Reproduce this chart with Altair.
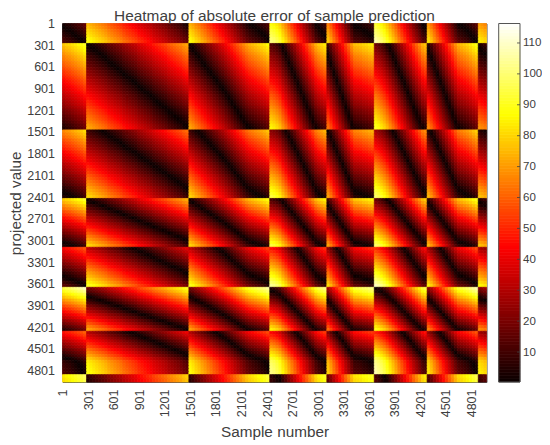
import altair as alt
import pandas as pd

alt.data_transformers.disable_max_rows()

# Values are read off the picture. Each cell is derived as |row profile - column profile|,
# using one hand-read profile per axis, rather than being read cell by cell.
title_text = "Heatmap of absolute error of sample prediction"
ticks = [1, 301, 601, 901, 1201, 1501, 1801, 2101, 2401, 2701, 3001, 3301, 3601, 3901, 4201, 4501, 4801]
bar_ticks = [10, 20, 30, 40, 50, 60, 70, 80, 90, 100, 110]

col_edges = [1, 283, 1484, 2433, 3103, 3660, 4280, 4880, 4977]
col_blocks = [
    [78, 80, 81, 83, 85, 87, 89, 92],
    [1, 3, 5, 7, 9, 11, 13, 16, 18, 20, 22, 24, 27, 29, 31, 33, 35, 38, 40, 42, 44, 46, 49, 51, 53, 55, 57, 60, 62, 64, 66, 68, 71, 73],
    [2, 5, 9, 12, 16, 19, 23, 26, 30, 33, 37, 40, 44, 48, 52, 56, 60, 64, 68, 72, 75, 77, 79, 81, 83, 85, 88],
    [-12, -10, -7, -3, 4, 10, 17, 23, 29, 36, 42, 49, 55, 62, 68, 75, 79, 82, 85],
    [11, 18, 26, 33, 41, 48, 56, 63, 71, 77, 78, 79, 81, 82, 84, 85],
    [-17, -14, -10, -6, -1, 5, 11, 17, 24, 30, 36, 43, 49, 56, 62, 68, 75, 78],
    [7, 13, 20, 27, 34, 41, 48, 55, 62, 69, 75, 77, 79, 81, 84, 87, 90],
    [5, 7, 9],
]
row_edges = [1, 277, 1473, 2421, 3096, 3650, 4258, 4858, 4960]
row_blocks = [
    [76, 78, 81, 83, 85, 88, 90],
    [1, 4, 6, 9, 12, 14, 17, 19, 22, 25, 27, 30, 33, 35, 38, 40, 43, 46, 48, 51, 53, 56, 59, 61, 64, 66, 69, 72, 74],
    [11, 14, 17, 21, 24, 27, 30, 34, 37, 40, 43, 47, 50, 53, 56, 60, 63, 66, 69, 73, 76, 79, 82],
    [0, 5, 11, 16, 22, 27, 33, 38, 44, 49, 55, 60, 66, 71, 77, 82],
    [34, 39, 44, 48, 53, 58, 63, 68, 73, 77, 82, 87, 92],
    [-17, -11, -4, 2, 9, 15, 22, 28, 34, 41, 47, 54, 60, 67, 73],
    [32, 37, 42, 48, 53, 58, 64, 69, 74, 80, 85, 87, 88, 89, 90],
    [-6, -4],
]

def cells(edges, blocks):
    out = []
    for a, b, vals in zip(edges[:-1], edges[1:], blocks):
        step = (b - a) / len(vals)
        for i, v in enumerate(vals):
            out.append((a + i * step, a + (i + 1) * step, v))
    return out

rows = []
for y0, y1, r in cells(row_edges, row_blocks):
    for x0, x1, c in cells(col_edges, col_blocks):
        rows.append({"x0": round(x0, 1), "x1": round(x1, 1), "y0": round(y0, 1), "y1": round(y1, 1), "e": abs(r - c)})
df = pd.DataFrame(rows)

INK = "#404040"
FONT = "Liberation Sans"
hot = alt.Scale(domain=[0.3, 44, 87, 116.3], range=["#0a0000", "#ff0000", "#ffff00", "#ffffff"], interpolate="rgb", clamp=True)

main = alt.Chart(df).mark_rect(strokeWidth=0.7).encode(
    x=alt.X("x0:Q", scale=alt.Scale(domain=[1, 4977], nice=False, zero=False),
            axis=alt.Axis(values=ticks, format="d", labelAngle=270, labelAlign="right", labelBaseline="middle", ticks=False, grid=False, domain=False,
                          labelPadding=7, labelFontSize=12.5, labelFont=FONT, labelColor=INK, labelOverlap=False,
                          title="Sample number", titleFontSize=15.3, titleFont=FONT, titleColor=INK, titleFontWeight="normal", titlePadding=8)),
    x2="x1:Q",
    y=alt.Y("y0:Q", scale=alt.Scale(domain=[1, 4960], nice=False, zero=False, reverse=True),
            axis=alt.Axis(values=ticks, format="d", ticks=False, grid=False, domain=False, labelPadding=8, labelFontSize=12.5, labelFont=FONT, labelColor=INK, labelOverlap=False,
                          title="projected value", titleFontSize=15.3, titleFont=FONT, titleColor=INK, titleFontWeight="normal", titlePadding=3)),
    y2="y1:Q",
    color=alt.Color("e:Q", scale=hot, legend=None),
    stroke=alt.Color("e:Q", scale=hot, legend=None),
)

levels = [i + 0.3 for i in range(116)]
bar_df = pd.DataFrame({"v0": levels, "v1": [v + 1 for v in levels], "e": [v + 0.5 for v in levels]})
bar_scale = alt.Scale(domain=[0.3, 116.3], nice=False, zero=False)
bar_axis = alt.Axis(orient="right", values=bar_ticks, ticks=False, grid=False, domain=False, labelPadding=36,
                    labelFontSize=11.5, labelFont=FONT, labelColor=INK, title=None)
BX0, BX1 = 436.2, 457.5
bar_cells = alt.Chart(bar_df).mark_rect(strokeWidth=0.7).encode(
    y=alt.Y("v0:Q", scale=bar_scale, axis=bar_axis),
    y2="v1:Q",
    x=alt.value(BX0), x2=alt.value(BX1),
    color=alt.Color("e:Q", scale=hot, legend=None),
    stroke=alt.Color("e:Q", scale=hot, legend=None),
)
bar_frame = alt.Chart(pd.DataFrame({"a": [0.3], "b": [116.3]})).mark_rect(fill=None, stroke="#555555", strokeWidth=1, clip=False).encode(
    y=alt.Y("a:Q", scale=bar_scale, axis=None), y2="b:Q",
    x=alt.value(BX0), x2=alt.value(BX1),
)
bar_marks = alt.Chart(pd.DataFrame({"v": bar_ticks})).mark_rule(color="#404040", strokeWidth=0.8).encode(
    y=alt.Y("v:Q", scale=bar_scale, axis=None),
    x=alt.value(BX1 - 3), x2=alt.value(BX1),
)

chart = alt.layer(main, bar_cells, bar_frame, bar_marks).resolve_scale(y="independent").properties(
    width=424, height=358.5,
    autosize=alt.AutoSizeParams(type="none"),
    padding={"left": 54.5, "top": 15.5, "right": 55.5, "bottom": 62},
    title=alt.TitleParams(title_text, fontSize=15.4, font=FONT, color=INK, fontWeight="normal", offset=-6.5, anchor="middle"),
).configure_view(stroke="#555555", strokeWidth=1)

chart.save("out.html", embed_options={"renderer": "svg", "actions": False})
